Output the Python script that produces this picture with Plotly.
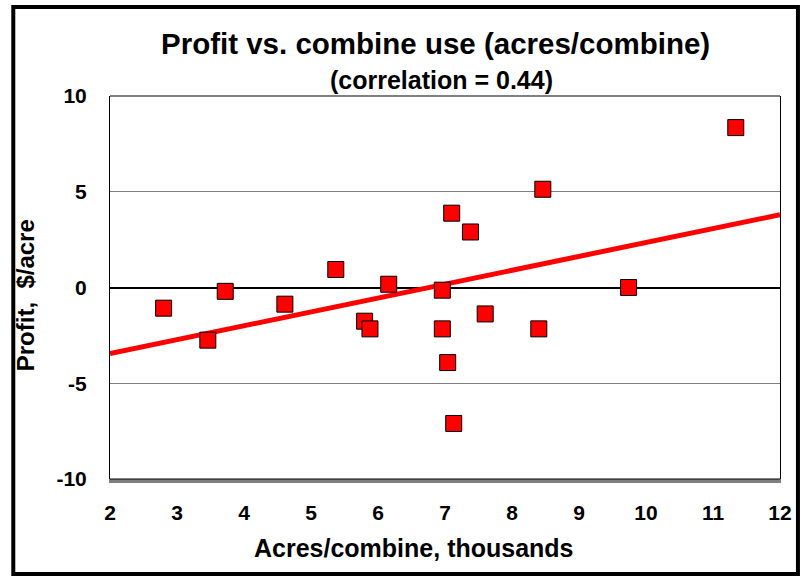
import plotly.graph_objects as go

acres = [2.80, 3.46, 3.72, 4.61, 5.37, 6.16, 5.80, 5.88, 6.96, 6.96,
         7.04, 7.13, 7.10, 7.38, 7.60, 8.40, 8.46, 9.74, 11.34]
profit = [-1.08, -2.75, -0.20, -0.87, 0.94, 0.17, -1.76, -2.16, -0.14, -2.16,
          -3.92, -7.10, 3.88, 2.90, -1.38, -2.16, 5.13, 0.00, 8.35]
trend_x = [2, 12]
trend_y = [-3.45, 3.80]
x_ticks = [2, 3, 4, 5, 6, 7, 8, 9, 10, 11, 12]
y_ticks = [-10, -5, 0, 5, 10]
y_tick_text = ["-10", "-5", "0", "5", "10"]

FONT = "Arial, Liberation Sans, sans-serif"

fig = go.Figure()
fig.add_trace(go.Scatter(x=trend_x, y=trend_y, mode="lines",
                         line=dict(color="#ff0000", width=5), hoverinfo="skip",
                         showlegend=False))
fig.add_trace(go.Scatter(x=acres, y=profit, mode="markers",
                         marker=dict(symbol="square", size=16, color="#ff0000",
                                     line=dict(color="#000000", width=1)),
                         showlegend=False))

fig.update_layout(
    width=804, height=576,
    margin=dict(l=110, r=22, t=96, b=97),
    paper_bgcolor="white", plot_bgcolor="white",
    font=dict(family=FONT, size=21, color="black", weight="bold"),
    xaxis=dict(range=[2, 12], tickvals=x_ticks, showgrid=False, zeroline=False,
               showline=True, linecolor="#808080", linewidth=4,
               ticks="", ticklabelstandoff=12,
               tickfont=dict(size=21, weight="bold")),
    yaxis=dict(range=[-10, 10], tickvals=y_ticks, ticktext=y_tick_text, showgrid=True,
               gridcolor="#808080", gridwidth=1,
               zeroline=True, zerolinecolor="black", zerolinewidth=2,
               showline=True, linecolor="black", linewidth=1, mirror=True,
               ticks="", ticklabelstandoff=18,
               tickfont=dict(size=21, weight="bold")),
    shapes=[
        dict(type="line", xref="paper", yref="paper", x0=0, x1=1, y0=1, y1=1,
             line=dict(color="black", width=1)),
        dict(type="line", xref="paper", yref="paper", x0=0, x1=1, y0=0, y1=0,
             line=dict(color="black", width=1)),
        dict(type="rect", xref="paper", yref="paper",
             x0=(13 - 110) / 672, x1=(800 - 110) / 672,
             y0=(479 - 574) / 383, y1=(479 - 7) / 383,
             line=dict(color="black", width=4)),
    ],
    annotations=[
        dict(text="Profit vs. combine use (acres/combine)", xref="paper", yref="paper",
             x=(436 - 110) / 672, y=(479 - 43) / 383, xanchor="center", yanchor="middle",
             showarrow=False, font=dict(size=29.5, weight="bold")),
        dict(text="(correlation = 0.44)", xref="paper", yref="paper",
             x=(442 - 110) / 672, y=(479 - 80) / 383, xanchor="center", yanchor="middle",
             showarrow=False, font=dict(size=25, weight="bold")),
        dict(text="Acres/combine, thousands", xref="paper", yref="paper",
             x=(415 - 110) / 672, y=(479 - 548) / 383, xanchor="center", yanchor="middle",
             showarrow=False, font=dict(size=25, weight="bold")),
        dict(text="Profit,  $/acre", xref="paper", yref="paper", textangle=-90,
             x=(25 - 110) / 672, y=(479 - 295) / 383, xanchor="center", yanchor="middle",
             showarrow=False, font=dict(size=24, weight="bold")),
    ],
)

fig.write_html("out.html", config={"displayModeBar": False},
               post_script="document.body.style.margin='0';")
